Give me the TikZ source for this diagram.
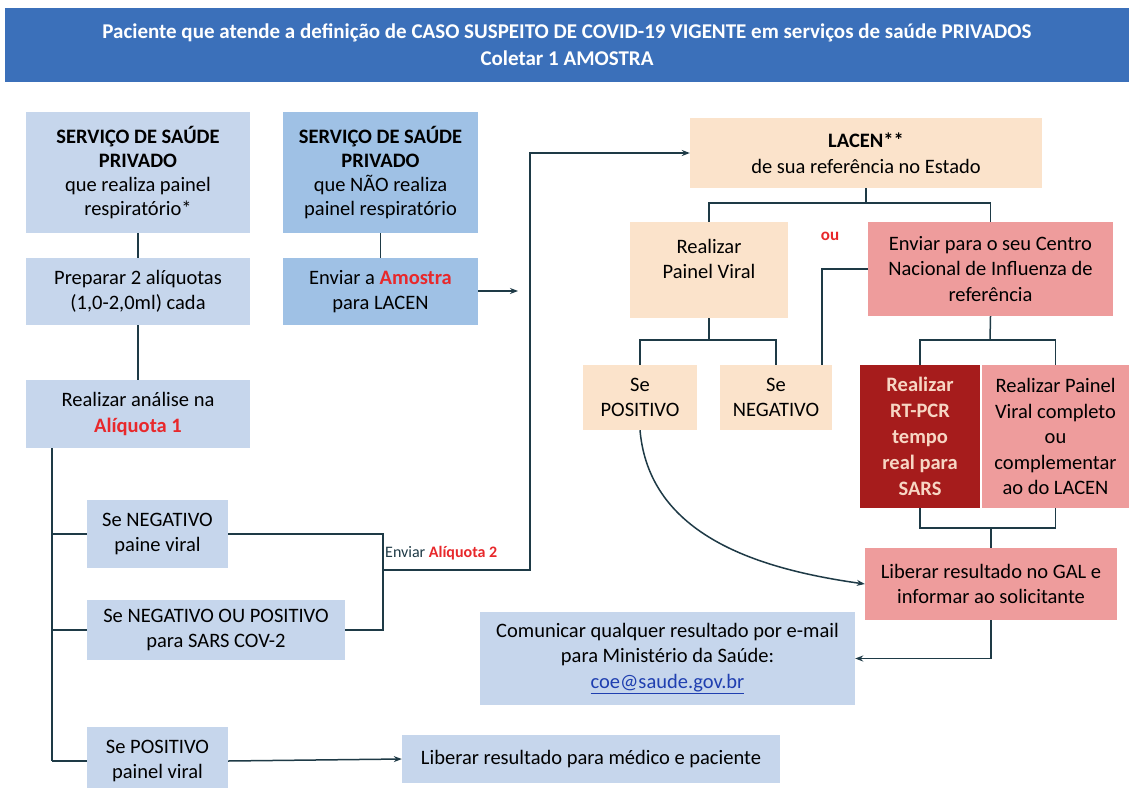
\documentclass[tikz,border=0pt]{standalone}
\usepackage{fontspec}
\setmainfont{Carlito}
\usetikzlibrary{arrows.meta,calc}
\definecolor{hdr}{HTML}{3B70BA}
\definecolor{lblue}{HTML}{C6D6EC}
\definecolor{dblue}{HTML}{9FC1E5}
\definecolor{peach}{HTML}{FBE3CB}
\definecolor{pink}{HTML}{EE9C9C}
\definecolor{dred}{HTML}{A61C1C}
\definecolor{rtxt}{HTML}{F7D6C4}
\definecolor{lcol}{HTML}{1E3A46}
\definecolor{redt}{HTML}{E8282B}
\definecolor{link}{HTML}{1F3FB0}
\newcommand\mybox[7]{\node[#6, minimum width={(#4-#2)*1pt}, minimum height={(#5-#3)*1pt}] (#1) at ({(#2+#4)/2},{(#3+#5)/2}) {#7};}
\newcommand\rb[1]{\textcolor{redt}{\textbf{#1}}}
\begin{document}
\begin{tikzpicture}[x=1pt,y=-1pt,
  every node/.style={inner sep=0pt, align=center, font=\fontsize{20.5}{25.5}\selectfont, text=black},
  lb/.style={fill=lblue},
  db/.style={fill=dblue},
  pc/.style={fill=peach},
  pk/.style={fill=pink},
  dr/.style={fill=dred, text=rtxt, font=\fontsize{20.5}{26}\selectfont\bfseries},
  hd/.style={fill=hdr, text=white, font=\fontsize{21}{27}\selectfont\bfseries},
  tight/.style={font=\fontsize{20.5}{24}\selectfont},
  ln/.style={draw=lcol, line width=1.5pt},
  arr/.style={ln, -{Stealth[length=8pt,width=6pt]}},
]
\useasboundingbox[fill=white] (0,0) rectangle (1129,787);

% header
\mybox{hdr}{5}{8}{1129}{82}{hd}{Paciente que atende a definição de CASO SUSPEITO DE COVID-19 VIGENTE em serviços de saúde PRIVADOS\\Coletar 1 AMOSTRA}

% left column
\mybox{b1}{26}{112}{250}{233}{lb,tight}{\textbf{SERVIÇO DE SAÚDE}\\\textbf{PRIVADO}\\que realiza painel\\respiratório*}
\mybox{b2}{283}{112}{478}{233}{db,tight}{\textbf{SERVIÇO DE SAÚDE}\\\textbf{PRIVADO}\\que NÃO realiza\\painel respiratório}
\mybox{b3}{26}{258}{250}{325}{lb}{Preparar 2 alíquotas\\(1,0-2,0ml) cada}
\mybox{b4}{283}{258}{478}{325}{db}{Enviar a \rb{Amostra}\\para LACEN}
\mybox{b5}{26}{380}{250}{448}{lb}{Realizar análise na\\\rb{Alíquota 1}}
\mybox{b6}{87}{500}{228}{568}{lb}{Se NEGATIVO\\paine viral}
\mybox{b7}{87}{600}{345}{660}{lb}{Se NEGATIVO OU POSITIVO\\para SARS COV-2}
\mybox{b8}{87}{727}{228}{795}{lb}{Se POSITIVO\\painel viral}
\mybox{b9}{402}{735}{780}{783}{lb}{Liberar resultado para médico e paciente}

% right side
\mybox{lacen}{690}{118}{1042}{188}{pc}{\textbf{LACEN**}\\de sua referência no Estado}
\mybox{pv}{630}{222}{788}{318}{pc}{}
\node at (709,259) {Realizar\\Painel Viral};
\mybox{env}{868}{222}{1113}{316}{pk}{Enviar para o seu Centro\\Nacional de Influenza de\\referência}
\node[text=redt, font=\fontsize{17}{19}\selectfont\bfseries] (ou) at (830,236) {ou};
\mybox{sp}{583}{365}{697}{430}{pc}{Se\\POSITIVO}
\mybox{sn}{720}{365}{832}{430}{pc}{Se\\NEGATIVO}
\mybox{rt}{860}{365}{980}{508}{dr}{Realizar\\RT-PCR\\tempo\\real para\\SARS}
\mybox{rp}{982}{365}{1129}{508}{pk}{Realizar Painel\\Viral completo\\ou\\complementar\\ao do LACEN}
\mybox{gal}{865}{548}{1117}{620}{pk}{Liberar resultado no GAL e\\informar ao solicitante}
\mybox{com}{480}{612}{855}{705}{lb}{Comunicar qualquer resultado por e-mail\\para Ministério da Saúde:\\\textcolor{link}{\underline{coe@saude.gov.br}}}

% connectors left
\draw[ln] (b1.south) -- (b3.north);
\draw[ln] (b2.south) -- (b4.north);
\draw[ln] (b3.south) -- (b5.north);
\coordinate (a4) at (518,291);
\draw[arr] (b4.east |- a4) -- (a4);
\coordinate (tr) at (52,0);
\draw[ln] (tr |- b5.south) -- (tr |- b8.west);
\draw[ln] (tr |- b6.west) -- (b6.west);
\draw[ln] (tr |- b7.west) -- (b7.west);
\draw[ln] (tr |- b8.west) -- (b8.west);
\draw[arr] (b8.east) -- (b9.west);
\coordinate (j1) at (383,0);
\coordinate (j2) at (530,570);
\draw[ln] (b6.east) -| (j1 |- j2) |- (b7.east);
\draw[arr] (j1 |- j2) -- (j2) |- (lacen.west);
\node[font=\fontsize{16}{18}\selectfont, text=lcol, anchor=west] (lab) at (385,553) {Enviar \rb{Alíquota 2}};

% connectors right
\coordinate (l1) at (866,203);
\draw[ln] (lacen.south -| l1) -- (l1);
\draw[ln] (pv.north) |- (l1) -| (env.north);
\coordinate (l2) at (709,340);
\draw[ln] (pv.south) -- (l2);
\draw[ln] (sp.north) |- (l2) -| (sn.north);
\draw[ln] (env.west) -| ([xshift=-10pt]sn.north east);
\coordinate (l3) at (990,340);
\draw[ln] (env.south) -- (l3);
\draw[ln] (rt.north) |- (l3) -| (rp.north);
\coordinate (l4) at (991,528);
\draw[ln] (rt.south) |- (l4) -| (rp.south);
\draw[ln] (l4) -- (gal.north);
\draw[arr] (sp.south) to[out=-85,in=172] (gal.west);
\draw[arr] (gal.south) |- (com.east);
\end{tikzpicture}
\end{document}
